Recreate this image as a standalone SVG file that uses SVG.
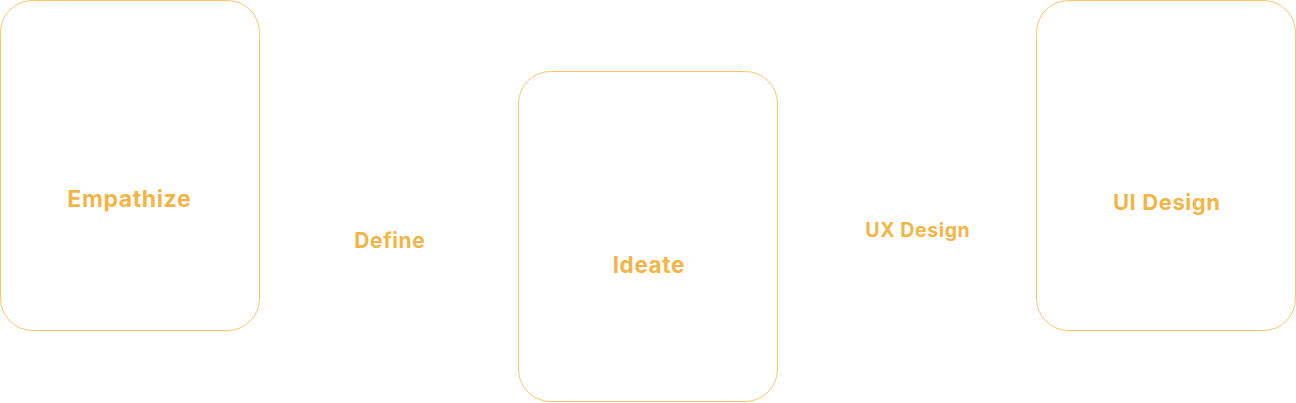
<svg xmlns="http://www.w3.org/2000/svg" width="1296" height="403" viewBox="0 0 1296 403">
<style>
.box{fill:#fff;stroke:#F6C66E;stroke-width:1}
.lbl{font-family:Inter,"Open Sans",sans-serif;font-weight:700;fill:#F4B548;text-anchor:middle;dominant-baseline:central;letter-spacing:0.6px}
</style>
<rect x="0" y="0" width="1296" height="403" fill="#fff"/>
<g id="connectors"></g>
<g id="empathize"><rect class="box" x="0.5" y="0.5" width="259" height="330" rx="32"/><text class="lbl" x="129.3" y="199" font-size="23">Empathize</text></g>
<g id="define"><text class="lbl" x="389.8" y="240.5" font-size="21">Define</text></g>
<g id="ideate"><rect class="box" x="518.5" y="71.5" width="259" height="330" rx="32"/><text class="lbl" x="648.8" y="264.5" font-size="22.5">Ideate</text></g>
<g id="uxdesign"><text class="lbl" x="917.8" y="230" font-size="19.5">UX Design</text></g>
<g id="uidesign"><rect class="box" x="1036.5" y="0.5" width="259" height="330" rx="32"/><text class="lbl" x="1166.8" y="202" font-size="22">UI Design</text></g>
</svg>
